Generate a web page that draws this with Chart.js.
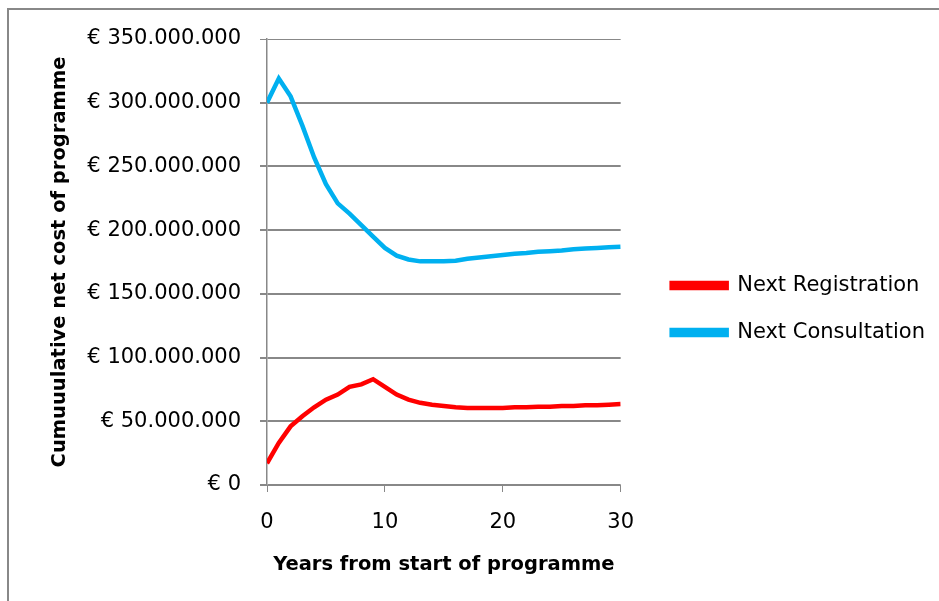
<!DOCTYPE html>
<html lang="en">
<head>
  <meta charset="UTF-8">
  <title>Cumulative net cost of programme</title>
  <script src="https://cdn.jsdelivr.net/npm/chart.js"></script>
  <style>
    body { margin: 0; background: #fff; }
    #marco {
      position: absolute; left: 7px; top: 8px; width: 960px; height: 620px;
      border: 2px solid #888; box-sizing: border-box;
    }
    #caja { position: absolute; left: 0; top: 0; width: 939px; height: 601px; }
  </style>
</head>
<body>
  <div id="marco"></div>
  <div id="caja"><canvas id="grafica"></canvas></div>

  <script>
    // años desde el inicio del programa
    const years = [0, 1, 2, 3, 4, 5, 6, 7, 8, 9, 10, 11, 12, 13, 14, 15,
                   16, 17, 18, 19, 20, 21, 22, 23, 24, 25, 26, 27, 28, 29, 30];

    // coste neto acumulado, en millones de euros
    const nextRegistration = [17, 33, 46, 54, 61, 67, 71, 77, 79, 83, 77, 71, 67, 64.5, 63, 62,
                              61, 60.5, 60.5, 60.5, 60.5, 61, 61, 61.5, 61.5, 62, 62, 62.5, 62.5, 63, 63.5];
    const nextConsultation = [300, 319, 305, 282, 257, 236, 221, 213, 204, 195, 186, 180, 177, 175.5, 175.5, 175.5,
                              176, 177.5, 178.5, 179.5, 180.5, 181.5, 182, 183, 183.5, 184, 185, 185.5, 186, 186.5, 187];

    const yTicks = [0, 50e6, 100e6, 150e6, 200e6, 250e6, 300e6, 350e6];
    const xTicks = [0, 10, 20, 30];

    function euros(v) {
      return '€ ' + String(Math.round(v)).replace(/\B(?=(\d{3})+(?!\d))/g, '.');
    }

    function puntos(serie) {
      return years.map((y, i) => ({ x: y, y: serie[i] * 1e6 }));
    }

    const fuente = 'DejaVu Sans';
    const gris = '#888888';

    const ctx = document.getElementById('grafica').getContext('2d');
    new Chart(ctx, {
      type: 'line',
      data: {
        datasets: [{
          label: 'Next Registration',
          data: puntos(nextRegistration),
          borderColor: '#ff0000',
          backgroundColor: '#ff0000',
          borderWidth: 4.5,
          pointRadius: 0,
          tension: 0
        }, {
          label: 'Next Consultation',
          data: puntos(nextConsultation),
          borderColor: '#00b0f0',
          backgroundColor: '#00b0f0',
          borderWidth: 4.5,
          pointRadius: 0,
          tension: 0
        }]
      },
      options: {
        responsive: true,
        maintainAspectRatio: false,
        animation: false,
        layout: { padding: { left: 48, top: 39, right: 4, bottom: 22 } },
        plugins: {
          tooltip: { enabled: false },
          legend: {
            position: 'right',
            maxWidth: 320,
            labels: {
              boxWidth: 55,
              boxHeight: 5,
              padding: 26,
              color: '#000',
              font: { family: fuente, size: 21 }
            }
          }
        },
        scales: {
          x: {
            type: 'linear',
            min: 0,
            max: 30,
            afterBuildTicks: s => { s.ticks = xTicks.map(v => ({ value: v })); },
            afterFit: s => { s.height = 94; },
            grid: { drawOnChartArea: false, drawTicks: true, tickLength: 7, color: gris, lineWidth: 1 },
            border: { color: gris, width: 1 },
            ticks: { color: '#000', padding: 18, font: { family: fuente, size: 21 } },
            title: {
              display: true,
              text: 'Years from start of programme',
              color: '#000',
              padding: 2,
              font: { family: fuente, size: 19.5, weight: 'bold' }
            }
          },
          y: {
            min: 0,
            max: 350e6,
            afterBuildTicks: s => { s.ticks = yTicks.map(v => ({ value: v })); },
            afterFit: s => { s.width = 219; },
            grid: {
              color: gris,
              lineWidth: c => (c.tick && c.tick.value === 350e6 ? 1 : 2),
              tickLength: 7
            },
            border: { color: gris, width: 1.5 },
            ticks: {
              color: '#000',
              padding: 19,
              font: { family: fuente, size: 21 },
              callback: v => euros(v)
            },
            title: {
              display: true,
              text: 'Cumuuulative net cost of programme',
              color: '#000',
              padding: 0,
              font: { family: fuente, size: 19.5, weight: 'bold' }
            }
          },
          hueco: {
            position: 'right',
            display: true,
            afterFit: s => { s.width = 25; },
            grid: { display: false },
            border: { display: false },
            ticks: { display: false }
          }
        }
      }
    });
  </script>
</body>
</html>
